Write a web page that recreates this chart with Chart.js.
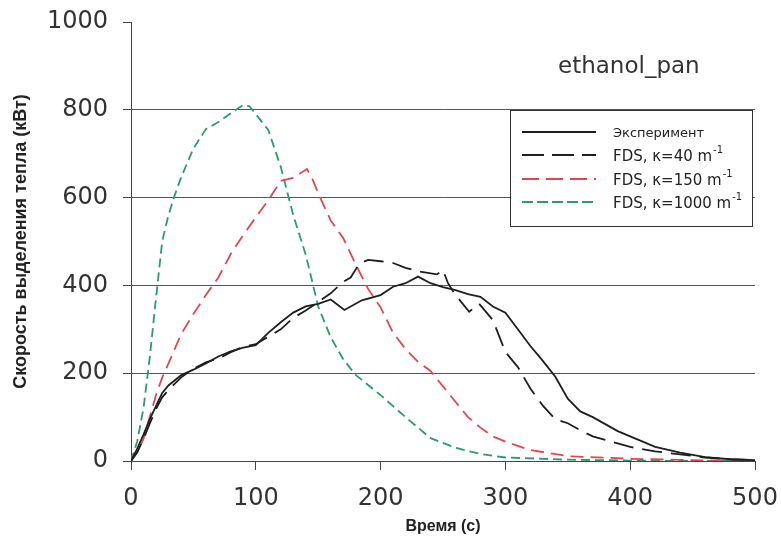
<!DOCTYPE html>
<html>
<head>
<meta charset="utf-8">
<script src="https://cdn.jsdelivr.net/npm/chart.js@4"></script>
<style>
  body { margin: 0; background: #fff; }
</style>
</head>
<body>
<canvas id="hrr" width="781" height="540"></canvas>
<script>
// time (s) and heat release rate (kW)
const expTime = [0, 5, 10, 15, 20, 25, 30, 40, 50, 60, 70, 80, 90, 100, 110, 120, 130, 140, 150, 160, 171, 185, 200, 210, 220, 230, 240, 250, 260, 270, 280, 290, 300, 310, 320, 330, 340, 350, 360, 370, 380, 390, 400, 420, 440, 460, 480, 500];
const expHrr  = [0, 28, 60, 95, 125, 155, 172, 195, 208, 222, 238, 250, 258, 264, 292, 316, 338, 352, 358, 368, 344, 366, 378, 397, 405, 420, 405, 396, 389, 380, 374, 352, 338, 300, 262, 228, 192, 142, 113, 100, 84, 68, 56, 32, 19, 9, 4, 2];

const k40Time = [0, 5, 10, 15, 20, 25, 30, 40, 50, 60, 70, 80, 90, 100, 110, 120, 130, 140, 150, 160, 170, 176, 183, 190, 200, 210, 220, 230, 245, 250, 254, 260, 271, 279, 290, 300, 310, 320, 330, 340, 350, 360, 370, 380, 400, 420, 440, 460, 480, 500];
const k40Hrr  = [0, 20, 50, 85, 118, 145, 162, 190, 210, 225, 233, 248, 260, 266, 283, 300, 326, 343, 362, 382, 408, 418, 450, 458, 455, 451, 440, 432, 425, 435, 405, 378, 340, 358, 321, 248, 214, 165, 126, 95, 86, 70, 56, 48, 32, 22, 15, 8, 4, 2];

const k150Time = [0, 5, 10, 15, 20, 25, 30, 40, 50, 60, 70, 80, 90, 100, 110, 120, 130, 141, 145, 150, 160, 170, 180, 190, 200, 210, 220, 230, 240, 250, 260, 270, 280, 290, 300, 320, 350, 400, 450, 500];
const k150Hrr  = [0, 20, 50, 100, 150, 190, 222, 288, 335, 378, 418, 472, 515, 555, 594, 638, 645, 665, 645, 610, 548, 508, 448, 392, 350, 292, 255, 226, 205, 170, 135, 100, 76, 56, 44, 25, 11, 5, 2, 0];

const k1000Time = [0, 5, 10, 15, 20, 25, 30, 35, 40, 50, 60, 70, 80, 90, 95, 100, 110, 120, 130, 140, 150, 160, 170, 180, 200, 220, 240, 260, 280, 300, 350, 400, 450, 500];
const k1000Hrr  = [0, 45, 120, 235, 370, 500, 560, 605, 645, 712, 756, 772, 792, 811, 808, 790, 754, 670, 560, 470, 352, 282, 232, 196, 150, 100, 52, 30, 16, 8, 3, 1, 0, 0];

const xTicks = [0, 100, 200, 300, 400, 500];
const yTicks = [0, 200, 400, 600, 800, 1000];

const toPoints = (t, v) => t.map((x, i) => ({ x: x, y: v[i] }));

// legend box + "ethanol_pan" note, drawn on top of the plot
const notes = {
  id: 'notes',
  afterDraw(chart) {
    const ctx = chart.ctx;
    ctx.save();
    ctx.fillStyle = '#333';
    ctx.font = '23px "DejaVu Sans"';
    ctx.textBaseline = 'alphabetic';
    ctx.fillText('ethanol_pan', 558, 73);

    // legend frame
    ctx.fillStyle = '#fff';
    ctx.fillRect(510, 110, 243, 116);
    ctx.strokeStyle = '#333';
    ctx.lineWidth = 1;
    ctx.strokeRect(510.5, 110.5, 242, 116);

    const rows = [132, 155, 179, 202];
    chart.data.datasets.forEach((ds, i) => {
      const y = rows[i];
      ctx.strokeStyle = ds.borderColor;
      ctx.lineWidth = 2;
      ctx.setLineDash(ds.legendDash);
      ctx.beginPath();
      ctx.moveTo(522, y);
      ctx.lineTo(596, y);
      ctx.stroke();
      ctx.setLineDash([]);
      ctx.fillStyle = '#222';
      if (i === 0) {
        ctx.font = '13px "DejaVu Sans"';
        ctx.fillText(ds.label, 613, y + 5);
      } else {
        ctx.font = '15px "DejaVu Sans"';
        const base = ds.label;
        ctx.fillText(base, 613, y + 6);
        const w = ctx.measureText(base).width;
        ctx.font = '10px "DejaVu Sans"';
        ctx.fillText('-1', 613 + w + 1, y - 2);
      }
    });
    ctx.restore();
  }
};

new Chart(document.getElementById('hrr'), {
  type: 'line',
  data: {
    datasets: [
      { label: 'Эксперимент', data: toPoints(expTime, expHrr), borderColor: '#1e1e1e', borderWidth: 1.8, borderDash: [], legendDash: [] },
      { label: 'FDS, κ=40 m', data: toPoints(k40Time, k40Hrr), borderColor: '#1e1e1e', borderWidth: 1.8, borderDash: [20, 9], legendDash: [22, 8] },
      { label: 'FDS, κ=150 m', data: toPoints(k150Time, k150Hrr), borderColor: '#e0474f', borderWidth: 1.8, borderDash: [13, 7], legendDash: [17, 7] },
      { label: 'FDS, κ=1000 m', data: toPoints(k1000Time, k1000Hrr), borderColor: '#2b9c6e', borderWidth: 1.8, borderDash: [9, 5], legendDash: [11, 4] }
    ]
  },
  options: {
    responsive: false,
    animation: false,
    layout: { padding: { top: 22, right: 26, left: 0, bottom: 0 } },
    elements: { point: { radius: 0 }, line: { tension: 0, fill: false } },
    plugins: { legend: { display: false }, tooltip: { enabled: false } },
    scales: {
      x: {
        type: 'linear',
        min: 0, max: 500,
        afterBuildTicks: s => { s.ticks = xTicks.map(v => ({ value: v })); },
        afterFit: s => { s.height = 79; s.paddingLeft = 0; s.paddingRight = 0; },
        grid: { drawOnChartArea: false, tickLength: 9, tickColor: '#444' },
        border: { color: '#444', width: 1 },
        ticks: { color: '#333', padding: 14, font: { family: 'DejaVu Sans', size: 24 }, callback: v => String(v) },
        title: { display: true, text: 'Время (с)', color: '#222', padding: { top: 0, bottom: 4 }, font: { family: 'Liberation Sans', size: 16, weight: 'bold' } }
      },
      y: {
        min: 0, max: 1000,
        afterBuildTicks: s => { s.ticks = yTicks.map(v => ({ value: v })); },
        afterFit: s => { s.width = 131; s.paddingTop = 0; s.paddingBottom = 0; },
        grid: {
          tickLength: 8,
          tickColor: '#444',
          color: c => (c.tick && (c.tick.value === 0 || c.tick.value === 1000)) ? 'rgba(0,0,0,0)' : '#555'
        },
        border: { color: '#444', width: 1 },
        ticks: { color: '#333', padding: 15, font: { family: 'DejaVu Sans', size: 24 }, callback: v => String(v) },
        title: { display: true, text: 'Скорость выделения тепла (кВт)', color: '#222', padding: { top: 10, bottom: 0 }, font: { family: 'Liberation Sans', size: 18, weight: 'bold' } }
      }
    }
  },
  plugins: [notes]
});
</script>
</body>
</html>
